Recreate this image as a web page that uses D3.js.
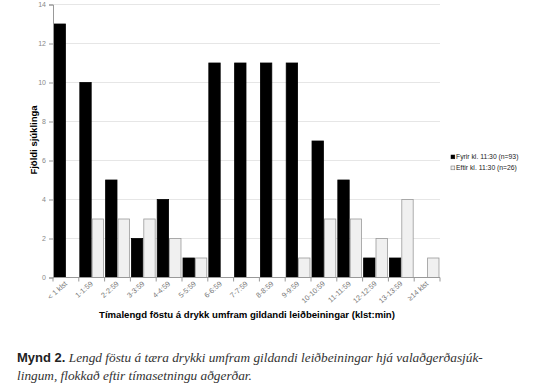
<!DOCTYPE html>
<meta charset="utf-8">
<html>
<body style="margin:0; background-color: white;">
<script src="https://d3js.org/d3.v7.min.js"></script>
<div id="my_dataviz"></div>
<script>

// categories (time over guideline) and the two groups
var categories = ["< 1 klst", "1-1:59", "2-2:59", "3-3:59", "4-4:59", "5-5:59", "6-6:59", "7-7:59",
                  "8-8:59", "9-9:59", "10-10:59", "11-11:59", "12-12:59", "13-13:59", "\u226514 klst"];
var fyrir = [13, 10, 5, 2, 4, 1, 11, 11, 11, 11, 7, 5, 1, 1, 0];
var eftir = [0, 3, 3, 3, 2, 1, 0, 0, 0, 1, 3, 3, 2, 4, 1];
var seriesNames = ["Fyrir kl. 11:30 (n=93)", "Eftir kl. 11:30 (n=26)"];
var yTicks = [0, 2, 4, 6, 8, 10, 12, 14];

var width = 550, height = 391;
var plot = {left: 53, right: 440, top: 4.5, bottom: 277.5};

var svg = d3.select("#my_dataviz")
  .append("svg")
    .attr("width", width)
    .attr("height", height)
    .style("display", "block");

var data = categories.map(function(c, i) { return {cat: c, vals: [fyrir[i], eftir[i]]}; });

var x0 = d3.scaleBand()
  .domain(categories)
  .range([plot.left, plot.right])
  .paddingInner(0.04)
  .paddingOuter(0.02);

var x1 = d3.scaleBand()
  .domain([0, 1])
  .range([0, x0.bandwidth()])
  .padding(0);

var y = d3.scaleLinear()
  .domain([0, 14])
  .range([plot.bottom, plot.top]);

// gridlines
svg.selectAll(".grid")
  .data(yTicks.filter(function(d) { return d > 0; }))
  .enter()
  .append("line")
    .attr("x1", plot.left)
    .attr("x2", plot.right)
    .attr("y1", function(d) { return y(d); })
    .attr("y2", function(d) { return y(d); })
    .attr("stroke", "#e6e6e6")
    .attr("stroke-width", 1);

// bars
var fills = ["#000000", "#f0f0f0"];
var strokes = ["#000000", "#9a9a9a"];
svg.selectAll(".grp")
  .data(data)
  .enter()
  .append("g")
    .attr("transform", function(d) { return "translate(" + x0(d.cat) + ",0)"; })
  .selectAll("rect")
  .data(function(d) { return d.vals.map(function(v, k) { return {k: k, v: v}; }); })
  .enter()
  .filter(function(d) { return d.v > 0; })
  .append("rect")
    .attr("x", function(d) { return x1(d.k) + 0.5; })
    .attr("y", function(d) { return y(d.v); })
    .attr("width", x1.bandwidth() - 1)
    .attr("height", function(d) { return y(0) - y(d.v); })
    .attr("fill", function(d) { return fills[d.k]; })
    .attr("stroke", function(d) { return strokes[d.k]; })
    .attr("stroke-width", 0.8);

// y axis
var yAxis = svg.append("g")
  .attr("transform", "translate(" + plot.left + ",0)")
  .call(d3.axisLeft(y).tickValues(yTicks).tickSize(4).tickPadding(3));
yAxis.select(".domain").attr("stroke", "#999");
yAxis.selectAll(".tick line").attr("stroke", "#999");
yAxis.selectAll("text")
  .attr("fill", "#888")
  .style("font-family", "Liberation Sans, Arial, sans-serif")
  .style("font-size", "7px");

// x axis line and boundary ticks
svg.append("line")
  .attr("x1", plot.left).attr("x2", plot.right)
  .attr("y1", y(0)).attr("y2", y(0))
  .attr("stroke", "#999");
var bounds = categories.map(function(c) { return x0(c) - x0.step() * x0.paddingInner() / 2; });
bounds.push(plot.right);
svg.selectAll(".xtick")
  .data(bounds)
  .enter()
  .append("line")
    .attr("x1", function(d) { return d; })
    .attr("x2", function(d) { return d; })
    .attr("y1", y(0))
    .attr("y2", y(0) + 4)
    .attr("stroke", "#999");

// rotated category labels
svg.selectAll(".xlab")
  .data(categories)
  .enter()
  .append("text")
    .attr("transform", function(d) {
      return "translate(" + (x0(d) + x0.bandwidth() / 2) + "," + (y(0) + 5) + ") rotate(-42)";
    })
    .attr("text-anchor", "end")
    .attr("dy", "0.35em")
    .attr("fill", "#777")
    .style("font-family", "Liberation Sans, Arial, sans-serif")
    .style("font-size", "7.3px")
    .text(function(d) { return d; });

// axis titles
svg.append("text")
  .attr("transform", "translate(37,140) rotate(-90)")
  .attr("text-anchor", "middle")
  .style("font-family", "Liberation Sans, Arial, sans-serif")
  .style("font-size", "9.5px")
  .style("font-weight", "bold")
  .text("Fjöldi sjúklinga");

svg.append("text")
  .attr("x", 247)
  .attr("y", 318)
  .attr("text-anchor", "middle")
  .style("font-family", "Liberation Sans, Arial, sans-serif")
  .style("font-size", "9.6px")
  .style("font-weight", "bold")
  .text("Tímalengd föstu á drykk umfram gildandi leiðbeiningar (klst:min)");

// legend
var legend = svg.selectAll(".legend")
  .data(seriesNames)
  .enter()
  .append("g")
    .attr("transform", function(d, i) { return "translate(451," + (157 + i * 11) + ")"; });
legend.append("rect")
  .attr("x", 0).attr("y", -2)
  .attr("width", 3.8).attr("height", 3.8)
  .attr("fill", function(d, i) { return fills[i]; })
  .attr("stroke", function(d, i) { return i ? "#666" : "#000"; })
  .attr("stroke-width", 0.5);
legend.append("text")
  .attr("x", 5)
  .attr("dy", "0.3em")
  .attr("fill", "#222")
  .style("font-family", "Liberation Sans, Arial, sans-serif")
  .style("font-size", "6.8px")
  .text(function(d) { return d; });

// caption
var cap = svg.append("text")
  .attr("x", 17)
  .attr("y", 362)
  .style("font-size", "13px");
cap.append("tspan")
  .style("font-family", "Liberation Sans, Arial, sans-serif")
  .style("font-weight", "bold")
  .attr("fill", "#222")
  .text("Mynd 2.");
cap.append("tspan")
  .style("font-family", "Liberation Serif, serif")
  .style("font-style", "italic")
  .style("font-size", "13.3px")
  .attr("fill", "#333")
  .text(" Lengd föstu á tæra drykki umfram gildandi leiðbeiningar hjá valaðgerðasjúk-");
svg.append("text")
  .attr("x", 17)
  .attr("y", 380)
  .style("font-family", "Liberation Serif, serif")
  .style("font-style", "italic")
  .style("font-size", "13.3px")
  .attr("fill", "#333")
  .text("lingum, flokkað eftir tímasetningu aðgerðar.");

</script>
</body>
</html>
